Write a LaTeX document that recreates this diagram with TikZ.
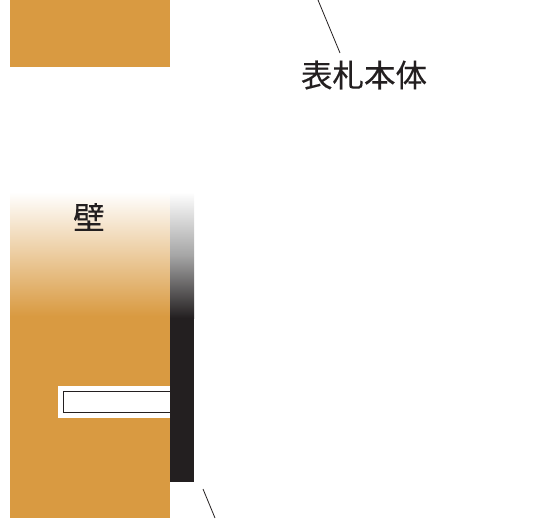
\documentclass[tikz,border=0pt]{standalone}
\usepackage{fontspec}
\setmainfont[FakeBold=0.25]{Noto Sans CJK JP}
\definecolor{wall}{HTML}{D99A41}
\definecolor{post}{HTML}{231F20}
\tikzset{lbl/.style={inner sep=0pt,text=post,font=\fontsize{31.5}{34}\selectfont},leader/.style={draw=post,line width=0.8pt}}
\begin{document}
\begin{tikzpicture}[x=1pt,y=-1pt,line join=miter]
\useasboundingbox (0,0) rectangle (534,518);
\fill[wall] (10,0) rectangle (170,67);
\fill[wall] (10,316) rectangle (170,518);
\shade[top color=white,bottom color=wall] (10,192) rectangle (170,316);
\fill[post] (170,318) rectangle (194,482);
\shade[top color=white,bottom color=post,middle color=black!35] (170,192) rectangle (194,318);
\fill[white] (58,386) rectangle (170,418);
\draw[post,line width=1.5pt] (170,391.5) -- (63.5,391.5) -- (63.5,412.5) -- (170,412.5);
\node[lbl] (kabe) at (89,217) {壁};
\node[lbl] (body) at (364,75) {表札本体};
\coordinate (a) at (318,0);
\coordinate (b) at (340,53);
\coordinate (c) at (203,489);
\coordinate (d) at (215,518);
\draw[leader] (a) -- (b);
\draw[leader] (c) -- (d);
\end{tikzpicture}
\end{document}
